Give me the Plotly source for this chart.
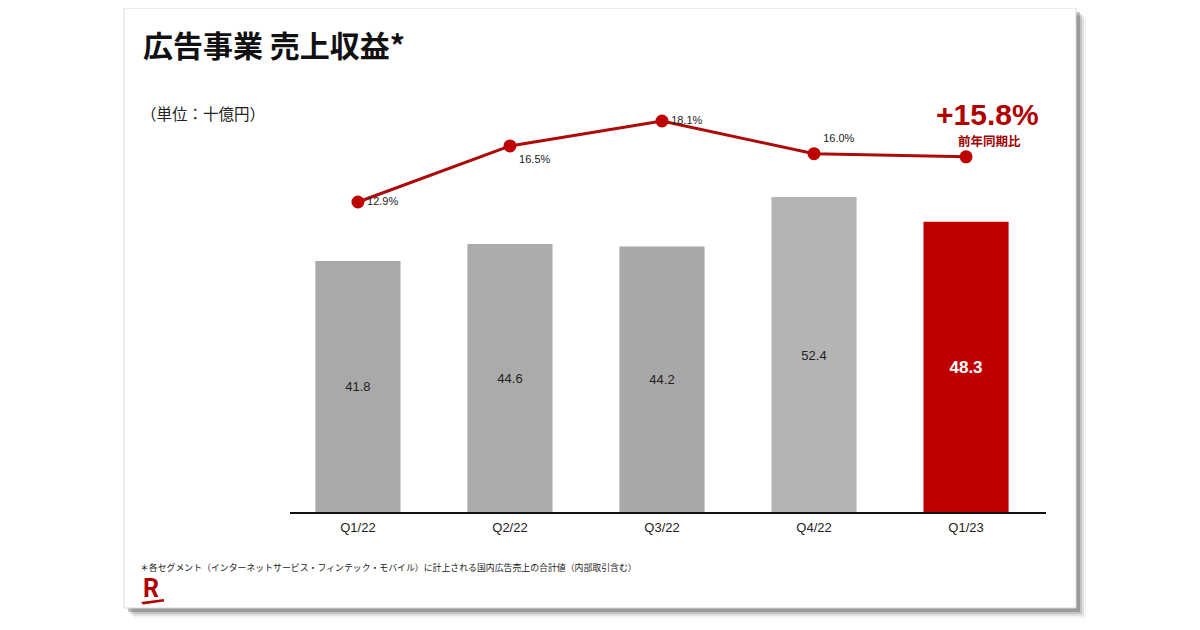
import plotly.graph_objects as go

categories = ["Q1/22", "Q2/22", "Q3/22", "Q4/22", "Q1/23"]
revenue = [41.8, 44.6, 44.2, 52.4, 48.3]
revenue_labels = ["41.8", "44.6", "44.2", "52.4", "48.3"]
share_pct = [12.9, 16.5, 18.1, 16.0, 15.8]
share_labels = ["12.9%", "16.5%", "18.1%", "16.0%", ""]
bar_colors = ["#a9a9a9", "#ababab", "#a8a8a8", "#b4b4b4", "#bf0000"]
yoy_text = "+15.8%"

W, H = 1200, 630
OFF = 8  # page body margin
L, R, T, B = 290, 1046, 100, 513
JP = "Noto Sans CJK JP"

def px(x):
    return (x - L) / (R - L)

def py(y):
    return (B - y) / (B - T)

fig = go.Figure()
fig.add_trace(go.Bar(
    x=categories, y=revenue, width=0.56,
    marker=dict(color=bar_colors, line=dict(width=0)),
    text=revenue_labels, textposition="inside", insidetextanchor="middle",
    textfont=dict(family="Liberation Sans, Arial",
                  size=[13, 13, 13, 13, 17],
                  color=["#222222"] * 4 + ["#ffffff"],
                  weight=[400, 400, 400, 400, 700]),
    hoverinfo="skip", showlegend=False, yaxis="y",
))
fig.add_trace(go.Scatter(
    x=categories, y=share_pct, mode="lines+markers+text",
    line=dict(color="#ad0a0a", width=3),
    marker=dict(color="#bf0000", size=13),
    text=share_labels,
    textposition=["middle right", "bottom right", "middle right", "top right", "middle right"],
    textfont=dict(family="Liberation Sans, Arial", size=11, color="#222222"),
    hoverinfo="skip", showlegend=False, yaxis="y2", cliponaxis=False,
))

shapes = []
# card shadow (soft)
for off, op in [(10, 0.06), (8, 0.1), (6, 0.18), (4, 0.3)]:
    shapes.append(dict(type="rect", xref="paper", yref="paper",
                       x0=px(124 + off), x1=px(1076 + off), y0=py(608 + off), y1=py(8 + off),
                       fillcolor=f"rgba(60,60,60,{op})", line=dict(width=0), layer="below"))
# card
shapes.append(dict(type="rect", xref="paper", yref="paper",
                   x0=px(124), x1=px(1076), y0=py(608), y1=py(8),
                   fillcolor="#ffffff", line=dict(color="#d8d8d8", width=1), layer="below"))
# baseline
shapes.append(dict(type="line", xref="paper", yref="paper",
                   x0=px(290), x1=px(1046), y0=py(513), y1=py(513),
                   line=dict(color="#111111", width=2)))
# logo swoosh
shapes.append(dict(type="path", xref="paper", yref="paper",
                   path=f"M {px(141)},{py(602)} L {px(164)},{py(599)} L {px(164)},{py(601.5)} L {px(143)},{py(604.5)} Z",
                   fillcolor="#b00000", line=dict(width=0)))

annotations = [
    dict(text="<b>広告事業 売上収益*</b>", x=px(141), y=py(44), xanchor="left", yanchor="middle",
         font=dict(family=JP, size=30, color="#111111")),
    dict(text="（単位：十億円）", x=px(139), y=py(113), xanchor="left", yanchor="middle",
         font=dict(family=JP, size=15.5, color="#222222")),
    dict(text="<b>" + yoy_text + "</b>", x=px(987), y=py(114), xanchor="center", yanchor="middle",
         font=dict(family="Liberation Sans, Arial", size=30, color="#b00000")),
    dict(text="<b>前年同期比</b>", x=px(989), y=py(140), xanchor="center", yanchor="middle",
         font=dict(family=JP, size=12.5, color="#a00000")),
    dict(text="＊各セグメント（インターネットサービス・フィンテック・モバイル）に計上される国内広告売上の合計値（内部取引含む）",
         x=px(138), y=py(567), xanchor="left", yanchor="middle",
         font=dict(family=JP, size=8.9, color="#1a1a1a")),
    dict(text="<b>R</b>", x=px(151), y=py(588), xanchor="center", yanchor="middle",
         font=dict(family="Roboto, Liberation Sans", size=25, color="#b00000")),
]

fig.update_layout(
    width=W, height=H,
    margin=dict(l=L - OFF, r=W - R + OFF, t=T - OFF, b=H - B + OFF, pad=0),
    paper_bgcolor="#ffffff", plot_bgcolor="rgba(0,0,0,0)",
    bargap=0.44,
    xaxis=dict(type="category", range=[-0.447, 4.526], showgrid=False, zeroline=False,
               showline=False, ticks="", tickfont=dict(family="Liberation Sans, Arial", size=13, color="#222222"),
               ticklabelstandoff=5, fixedrange=True),
    yaxis=dict(range=[0, (B - T) / 6.03], visible=False, fixedrange=True),
    yaxis2=dict(range=[12.9 - (B - 202) / 15.58, 12.9 + (202 - T) / 15.58], overlaying="y",
                visible=False, fixedrange=True),
    shapes=shapes, annotations=[dict(a, xref="paper", yref="paper", showarrow=False) for a in annotations],
)

fig.write_html("out.html")
